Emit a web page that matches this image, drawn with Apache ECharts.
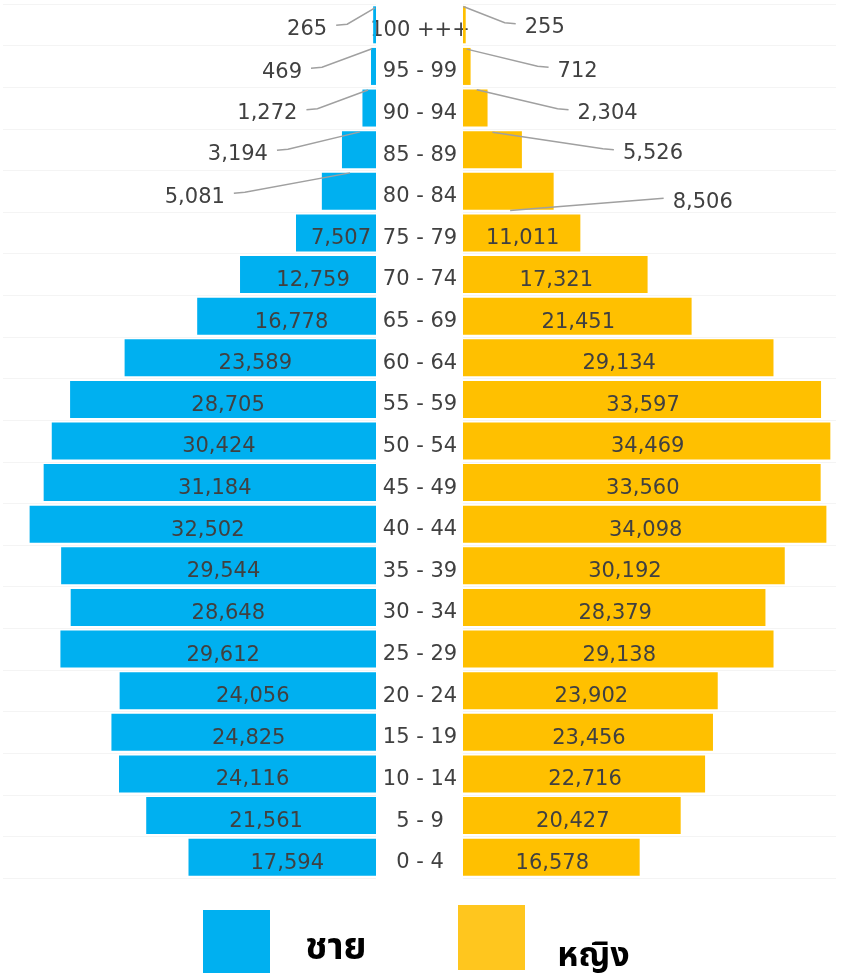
<!DOCTYPE html>
<html><head><meta charset="utf-8">
<script src="https://cdn.jsdelivr.net/npm/echarts@6/dist/echarts.min.js"></script>
<style>html,body{margin:0;padding:0;background:#fff}#c{width:841px;height:973px}</style>
</head><body><div id="c"></div>
<script>
// ---- data (bottom to top) ----
const ageGroups = ['0 - 4','5 - 9','10 - 14','15 - 19','20 - 24','25 - 29','30 - 34','35 - 39','40 - 44','45 - 49','50 - 54','55 - 59','60 - 64','65 - 69','70 - 74','75 - 79','80 - 84','85 - 89','90 - 94','95 - 99','100 +++'];
const maleValues = [17594,21561,24116,24825,24056,29612,28648,29544,32502,31184,30424,28705,23589,16778,12759,7507,5081,3194,1272,469,265];
const femaleValues = [16578,20427,22716,23456,23902,29138,28379,30192,34098,33560,34469,33597,29134,21451,17321,11011,8506,5526,2304,712,255];
const seriesNames = ['ชาย','หญิง'];
const OUTSIDE_FROM = 16;

// ---- callout placement (style only), order: 80-84 ... 100+++ ----
const maleCallouts = [
  {dx:-97, frac:0.48, endDy:-18.4, textDy:6,   kink:true},
  {dx:-74, frac:0.47, endDy:-17.8, textDy:4.6, kink:true},
  {dx:-65, frac:0.59, endDy:-18,   textDy:5.7, kink:true},
  {dx:-69, frac:0.8,  endDy:-17.6, textDy:5.8, kink:true},
  {dx:-46, frac:0.35, endDy:-17,   textDy:4.4, kink:true}
];
const femaleCallouts = [
  {dx:119, frac:0.52, endDy:19.3,  textDy:11,  kink:false},
  {dx:101, frac:0.5,  endDy:-17.5, textDy:4.1, kink:true},
  {dx:90,  frac:0.56, endDy:-18.2, textDy:5.7, kink:true},
  {dx:87,  frac:0.49, endDy:-17.3, textDy:4.8, kink:true},
  {dx:59,  frac:0.1,  endDy:-18.3, textDy:2.9, kink:true}
];

const BLUE = '#00B0F0', GOLD = '#FFC000', TXT = '#404040';
const FONT = 'DejaVu Sans';
const THAI = '"Noto Sans Thai", "Noto Sans", sans-serif';
const fmt = v => v.toLocaleString('en-US');

function calloutRenderer(side, cfgs) {
  return function (params, api) {
    const v = api.value(0), idx = api.value(1);
    const cfg = cfgs[params.dataIndex];
    const end = api.coord([v, idx]);
    const base = api.coord([v * cfg.frac, idx]);
    const tx = end[0] + cfg.dx, ty = end[1] + cfg.textDy;
    const dir = side === 'left' ? 1 : -1;
    const pts = [[tx + dir * 9, ty - 4]];
    if (cfg.kink) pts.push([tx + dir * 20, ty - 5]);
    pts.push([base[0], end[1] + cfg.endDy]);
    return {type: 'group', children: [
      {type: 'polyline', shape: {points: pts}, style: {stroke: '#a0a0a0', lineWidth: 1.5, fill: null}},
      {type: 'text', x: tx, y: ty, style: {text: fmt(v), fill: TXT, font: '21px "' + FONT + '"', align: side === 'left' ? 'right' : 'left', verticalAlign: 'middle'}}
    ]};
  };
}

const calloutData = (vals) => vals.map((v, i) => [v, i]).slice(OUTSIDE_FROM);

const legendText = (size, lineMax, lineText) => ({
  fontSize: size, fontWeight: 'bold', color: '#000', fontFamily: THAI, padding: [0, 0, 0, 30],
  rich: {
    s: {fontSize: 1, lineHeight: lineMax},
    t: {fontSize: size, fontWeight: 'bold', color: '#000', fontFamily: THAI, lineHeight: lineText, verticalAlign: 'bottom'}
  }
});

const chart = echarts.init(document.getElementById('c'), null, {renderer: 'canvas'});
chart.setOption({
  backgroundColor: '#fff',
  animation: false,
  textStyle: {fontFamily: FONT},
  grid: [
    {left: 3, right: 465, top: 4, bottom: 95, outerBoundsMode: 'none'},
    {left: 463, right: 5, top: 4, bottom: 95, outerBoundsMode: 'none'}
  ],
  xAxis: [
    {gridIndex: 0, type: 'value', min: 0, max: 35000, inverse: true, show: false},
    {gridIndex: 1, type: 'value', min: 0, max: 35000, show: false}
  ],
  yAxis: [
    {gridIndex: 0, type: 'category', data: ageGroups, position: 'right',
     axisLine: {show: false}, axisTick: {show: false},
     splitLine: {show: true, lineStyle: {color: '#f4f4f4', width: 1}},
     axisLabel: {interval: 0, margin: 44, align: 'center', verticalAlign: 'top', lineHeight: 11, fontSize: 21, color: TXT, fontFamily: FONT}},
    {gridIndex: 1, type: 'category', data: ageGroups,
     axisLine: {show: false}, axisTick: {show: false}, axisLabel: {show: false},
     splitLine: {show: true, lineStyle: {color: '#f4f4f4', width: 1}}}
  ],
  legend: [
    {data: [{name: seriesNames[0], itemStyle: {color: BLUE}}], left: 198, top: 905, padding: 5, itemWidth: 67, itemHeight: 63, icon: 'rect', selectedMode: false,
     formatter: n => '{s| }{t|' + n + '}', textStyle: legendText(37, 58, 40)},
    {data: [{name: seriesNames[1], itemStyle: {color: '#FFC61E'}}], left: 453, top: 900, padding: 5, itemWidth: 67, itemHeight: 65, icon: 'rect', selectedMode: false,
     formatter: n => '{s| }{t|' + n + '}', textStyle: Object.assign(legendText(34, 77, 36), {padding: [0, 0, 0, 27]})}
  ],
  series: [
    {name: seriesNames[0], type: 'bar', xAxisIndex: 0, yAxisIndex: 0, data: maleValues, barWidth: 37,
     itemStyle: {color: BLUE},
     label: {show: true, position: 'inside', offset: [5, 6], color: TXT, fontSize: 21, fontFamily: FONT,
       formatter: p => p.dataIndex >= OUTSIDE_FROM ? '' : fmt(p.value)}},
    {name: seriesNames[1], type: 'bar', xAxisIndex: 1, yAxisIndex: 1, data: femaleValues, barWidth: 37,
     itemStyle: {color: GOLD},
     label: {show: true, position: 'inside', offset: [1, 6], color: TXT, fontSize: 21, fontFamily: FONT,
       formatter: p => p.dataIndex >= OUTSIDE_FROM ? '' : fmt(p.value)}},
    {type: 'custom', xAxisIndex: 0, yAxisIndex: 0, data: calloutData(maleValues),
     renderItem: calloutRenderer('left', maleCallouts), silent: true, z: 5},
    {type: 'custom', xAxisIndex: 1, yAxisIndex: 1, data: calloutData(femaleValues),
     renderItem: calloutRenderer('right', femaleCallouts), silent: true, z: 5}
  ]
});
</script></body></html>
